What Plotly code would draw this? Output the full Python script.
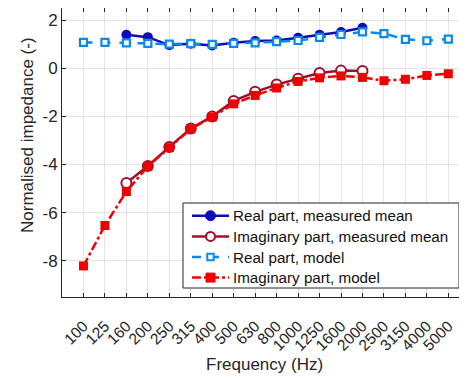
import plotly.graph_objects as go

freqs = ["100","125","160","200","250","315","400","500","630","800","1000","1250","1600","2000","2500","3150","4000","5000"]

meas_freqs = ["160","200","250","315","400","500","630","800","1000","1250","1600","2000"]
real_meas = [1.39, 1.29, 0.96, 1.02, 0.94, 1.06, 1.13, 1.15, 1.26, 1.39, 1.50, 1.68]
imag_meas = [-4.77, -4.06, -3.27, -2.50, -2.00, -1.36, -0.98, -0.68, -0.44, -0.20, -0.10, -0.12]

real_model = [1.07, 1.07, 1.05, 1.03, 1.00, 1.02, 0.99, 1.03, 1.05, 1.10, 1.15, 1.28, 1.40, 1.51, 1.44, 1.20, 1.14, 1.21]
imag_model = [-8.21, -6.53, -5.12, -4.08, -3.30, -2.52, -2.03, -1.48, -1.13, -0.82, -0.55, -0.40, -0.32, -0.38, -0.52, -0.46, -0.30, -0.23]

series_names = ["Real part, measured mean", "Imaginary part, measured mean",
                "Real part, model", "Imaginary part, model"]

yticks = [2, 0, -2, -4, -6, -8]
ytick_text = ["2", "0", "-2", "-4", "-6", "-8"]

FONT = "Liberation Sans, Arial, sans-serif"
C_RM, C_IM, C_RMOD, C_IMOD = "#0c0cb8", "#a0102a", "#0a8ae6", "#f00000"
idx = {f: i for i, f in enumerate(freqs)}

styles = [
    dict(line=dict(color=C_RM, width=2.5),
         marker=dict(symbol="circle", size=10, color=C_RM)),
    dict(line=dict(color=C_IM, width=2.5),
         marker=dict(symbol="circle", size=10, color="white", line=dict(color=C_IM, width=2))),
    dict(line=dict(color=C_RMOD, width=2.5, dash="dash"),
         marker=dict(symbol="square", size=7, color="white", line=dict(color=C_RMOD, width=2.2))),
    dict(line=dict(color=C_IMOD, width=2.5, dash="dashdot"),
         marker=dict(symbol="square", size=9, color=C_IMOD)),
]
xs = [[idx[f] for f in meas_freqs], [idx[f] for f in meas_freqs],
      list(range(len(freqs))), list(range(len(freqs)))]
ys = [real_meas, imag_meas, real_model, imag_model]

fig = go.Figure()
for name, x, y, st in zip(series_names, xs, ys, styles):
    fig.add_trace(go.Scatter(x=x, y=y, name=name, mode="lines+markers",
                             showlegend=False, **st))

# ---- legend box drawn in plot-area pixel terms (plot area: 405 x 289 px) ----
PW, PH, PL, PB = 405.0, 289.0, 62.0, 297.0
px = lambda v: (v - PL) / PW
py = lambda v: (PB - v) / PH

shapes = [dict(type="rect", xref="paper", yref="paper",
               x0=px(183), x1=px(459), y0=py(288), y1=py(203),
               line=dict(color="#262626", width=1), fillcolor="white", layer="above")]
annotations = []
row_y = [215.7, 236.4, 257.0, 277.6]
dashes = ["solid", "solid", "dash", "dashdot"]
for i, (name, st) in enumerate(zip(series_names, styles)):
    yc = py(row_y[i])
    shapes.append(dict(type="line", xref="paper", yref="paper",
                       x0=px(192), x1=px(229), y0=yc, y1=yc, layer="above",
                       line=dict(color=st["line"]["color"], width=2.5, dash=dashes[i])))
    annotations.append(dict(text=name, xref="paper", yref="paper", x=px(231), y=yc,
                            xanchor="left", yanchor="middle", showarrow=False,
                            font=dict(size=15.2, color="#111111")))

def key_marker(kind, yc, r, fill, edge, w):
    return dict(type=kind, xref="paper", yref="paper", xsizemode="pixel", ysizemode="pixel",
                xanchor=px(210.5), yanchor=yc, x0=-r, x1=r, y0=-r, y1=r, layer="above",
                fillcolor=fill, line=dict(color=edge, width=w))

shapes.append(key_marker("circle", py(row_y[0]), 5, C_RM, C_RM, 1))
shapes.append(key_marker("circle", py(row_y[1]), 4.5, "white", C_IM, 2))
shapes.append(key_marker("rect", py(row_y[2]), 3.2, "white", C_RMOD, 2))
shapes.append(key_marker("rect", py(row_y[3]), 4.5, C_IMOD, C_IMOD, 1))

annotations += [
    dict(text="Frequency (Hz)", xref="paper", yref="paper", x=0.5, y=0,
         yshift=-67, xanchor="center", yanchor="middle", showarrow=False,
         font=dict(size=17, color="#262626")),
    dict(text="Normalised impedance (-)", xref="paper", yref="paper", x=0,
         xshift=-34, y=py(135), xanchor="center", yanchor="middle",
         textangle=-90, showarrow=False, font=dict(size=17, color="#262626")),
]

# the page body adds an 8px offset at top/left, so the figure is 8px smaller there
fig.update_layout(
    width=459, height=370,
    margin=dict(l=54, r=0, t=0, b=81),
    paper_bgcolor="white", plot_bgcolor="white",
    font=dict(family=FONT, color="#262626"),
    showlegend=False,
    shapes=shapes,
    annotations=annotations,
)
fig.update_xaxes(
    range=[-1, 17.87], tickmode="array", tickvals=list(range(len(freqs))), ticktext=freqs,
    tickangle=-45, tickfont=dict(size=15.5), showgrid=True, gridcolor="#e3e3e3",
    showline=True, linecolor="#262626", linewidth=1, mirror="ticks",
    ticks="inside", ticklen=4, tickcolor="#262626", ticklabelstandoff=13,
    automargin=False, zeroline=False)
fig.update_yaxes(
    range=[-9.5, 2.5], tickmode="array", tickvals=yticks, ticktext=ytick_text,
    tickfont=dict(size=17), showgrid=True, gridcolor="#e3e3e3",
    showline=True, linecolor="#262626", linewidth=1, mirror="ticks",
    ticks="inside", ticklen=4, tickcolor="#262626",
    automargin=False, zeroline=False)

fig.write_html("out.html")
